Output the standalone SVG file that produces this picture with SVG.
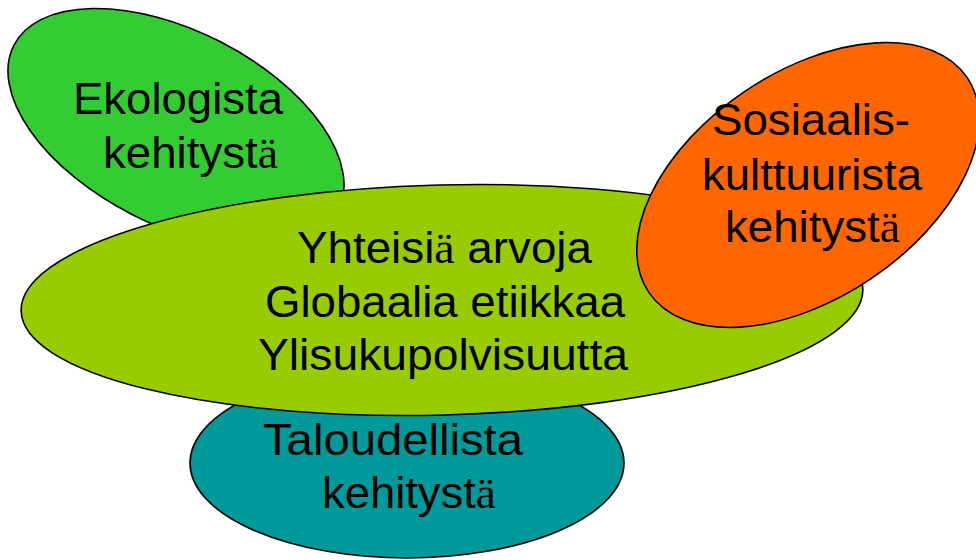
<svg xmlns="http://www.w3.org/2000/svg" width="976" height="560" viewBox="0 0 976 560">
<style>
.shape{stroke:#000;stroke-width:1.6}
.t{font-family:"Liberation Sans",Arial,sans-serif;font-size:45px;fill:#000}
.s{font-family:"Liberation Serif","Times New Roman",serif}
</style>
<rect width="976" height="560" fill="#fff"/>
<g id="ekologista">
<ellipse class="shape" cx="176" cy="128" rx="182" ry="97" transform="rotate(27 176 128)" fill="#33CC33"/>
<text class="t" x="73" y="114" textLength="210" lengthAdjust="spacingAndGlyphs">Ekologista</text>
<text class="t" x="103" y="168" textLength="175" lengthAdjust="spacingAndGlyphs">kehityst<tspan class="s">ä</tspan></text>
</g>
<g id="taloudellista">
<ellipse class="shape" cx="407" cy="463" rx="217" ry="95" fill="#009999"/>
<text class="t" x="263" y="455" textLength="260" lengthAdjust="spacingAndGlyphs">Taloudellista</text>
<text class="t" x="322" y="508" textLength="174" lengthAdjust="spacingAndGlyphs">kehityst<tspan class="s">ä</tspan></text>
</g>
<g id="yhteisia">
<ellipse class="shape" cx="442" cy="300" rx="421" ry="115" transform="rotate(-1.5 442 300)" fill="#99CC00"/>
<text class="t" x="297" y="263" textLength="295" lengthAdjust="spacingAndGlyphs">Yhteisi<tspan class="s">ä</tspan> arvoja</text>
<text class="t" x="265" y="317" textLength="360" lengthAdjust="spacingAndGlyphs">Globaalia etiikkaa</text>
<text class="t" x="258" y="370" textLength="370" lengthAdjust="spacingAndGlyphs">Ylisukupolvisuutta</text>
</g>
<g id="sosiaalis">
<ellipse class="shape" cx="808" cy="185" rx="192" ry="113" transform="rotate(-34 808 185)" fill="#FF6600"/>
<text class="t" x="712" y="135" textLength="198" lengthAdjust="spacingAndGlyphs">Sosiaalis-</text>
<text class="t" x="702" y="190" textLength="220" lengthAdjust="spacingAndGlyphs">kulttuurista</text>
<text class="t" x="725" y="242" textLength="175" lengthAdjust="spacingAndGlyphs">kehityst<tspan class="s">ä</tspan></text>
</g>
<g id="connectors"></g>
</svg>
